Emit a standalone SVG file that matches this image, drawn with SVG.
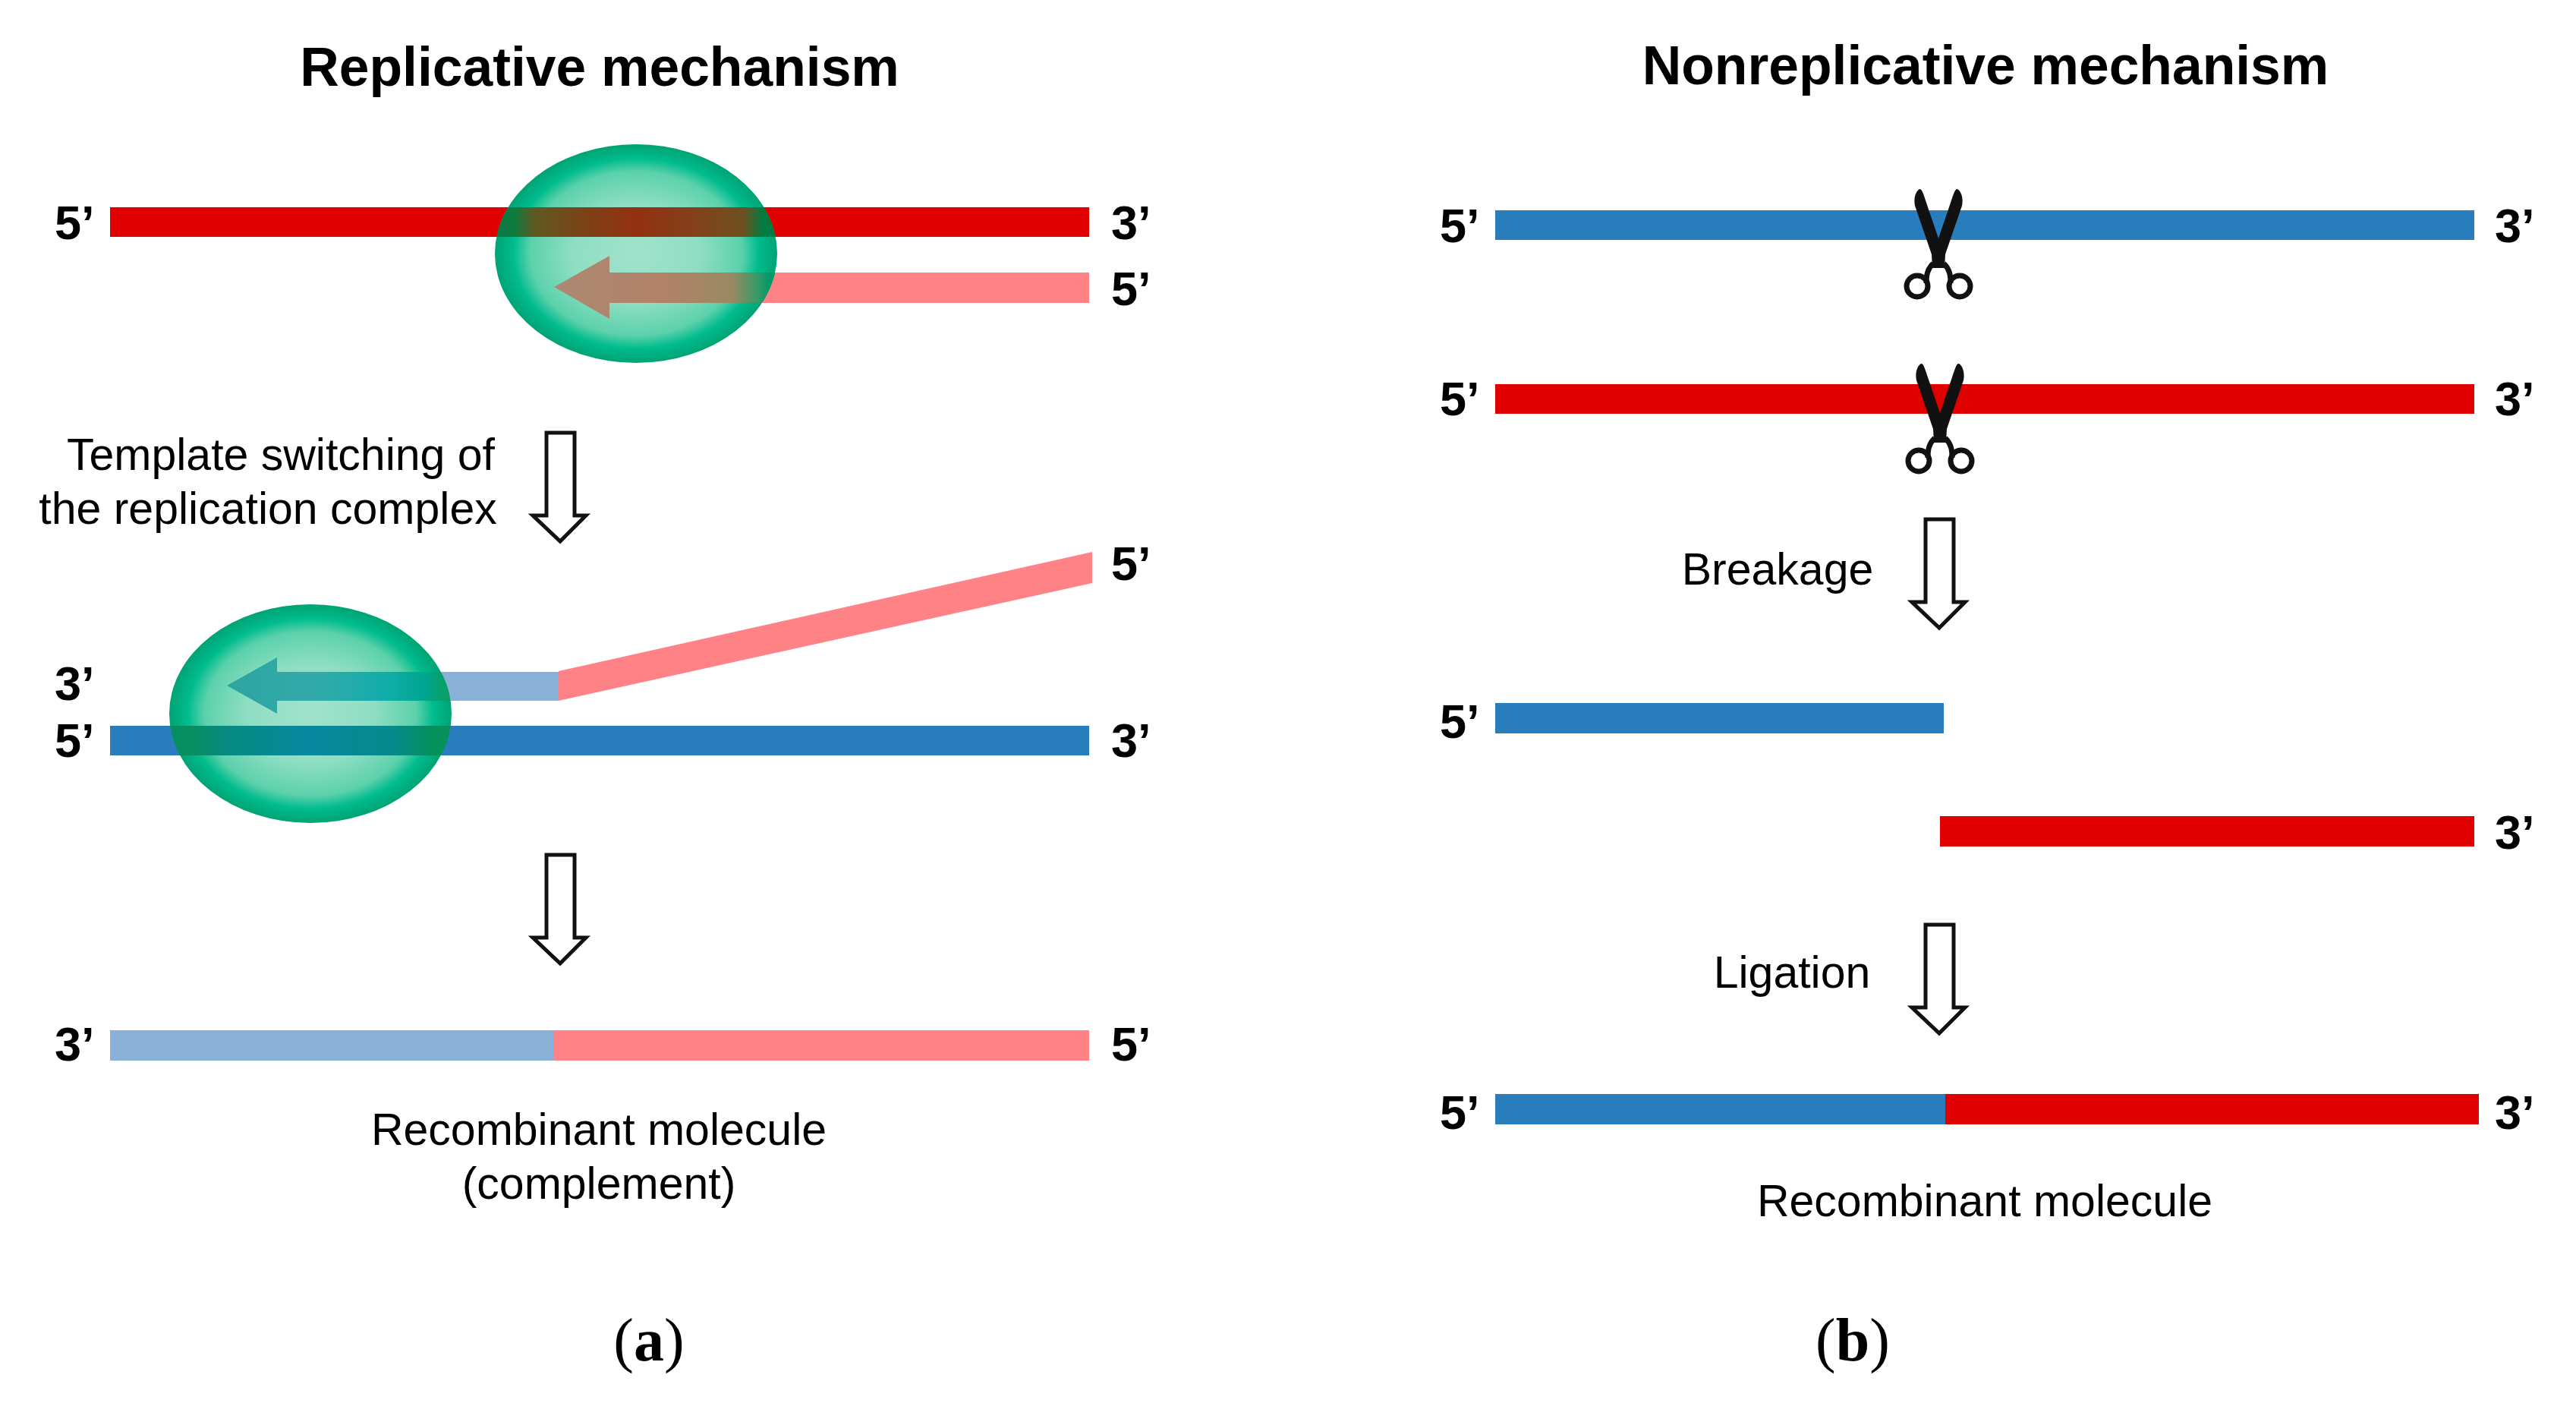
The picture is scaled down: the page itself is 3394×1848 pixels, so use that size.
<svg xmlns="http://www.w3.org/2000/svg" xmlns:xlink="http://www.w3.org/1999/xlink" width="3394" height="1848" viewBox="0 0 3394 1848">
<style>
text{font-family:"Liberation Sans",Arial,sans-serif;fill:#000}
.t{font-size:71.4px;font-weight:700;text-anchor:middle}
.e{font-size:63px;font-weight:700}
.l{font-size:59px;text-anchor:middle}
.c{font-family:"Liberation Serif","Times New Roman",serif;font-size:80px;text-anchor:middle}
.hollow{fill:#fff;stroke:#111;stroke-width:5}
.red{fill:#e00000}.blue{fill:#2a7dbd}.pink{fill:#ff8286}.lblue{fill:#8ab1d8}
.blade{fill:#111}
.hand{fill:none;stroke:#111;stroke-width:7}
</style>
<defs>
<radialGradient id="g">
<stop offset="0" stop-color="#a2e2cb"/>
<stop offset=".45" stop-color="#8fdec3"/>
<stop offset=".75" stop-color="#5cd1ab"/>
<stop offset=".87" stop-color="#00bc8d"/>
<stop offset="1" stop-color="#00a374"/>
</radialGradient>
<linearGradient id="o-red" gradientUnits="userSpaceOnUse" x1="652" x2="1024" y1="0" y2="0">
<stop offset="0" stop-color="#0a7a45"/><stop offset=".07" stop-color="#0f7a40"/><stop offset=".14" stop-color="#5f5a22"/><stop offset=".3" stop-color="#7a4418"/><stop offset=".5" stop-color="#933012"/><stop offset=".7" stop-color="#84401a"/><stop offset=".88" stop-color="#6e5020"/><stop offset=".95" stop-color="#007c40"/><stop offset="1" stop-color="#007c40"/>
</linearGradient>
<linearGradient id="o-pink" gradientUnits="userSpaceOnUse" x1="730" x2="1024" y1="0" y2="0">
<stop offset="0" stop-color="#ac8873"/><stop offset=".5" stop-color="#b28268"/><stop offset=".8" stop-color="#988a62"/><stop offset=".92" stop-color="#2f9a68"/><stop offset=".96" stop-color="#009a68"/><stop offset="1" stop-color="#009a68"/>
</linearGradient>
<linearGradient id="o-blue" gradientUnits="userSpaceOnUse" x1="223" x2="595" y1="0" y2="0">
<stop offset="0" stop-color="#078e60"/><stop offset=".08" stop-color="#078e60"/><stop offset=".2" stop-color="#078a80"/><stop offset=".5" stop-color="#0888a0"/><stop offset=".8" stop-color="#068a8a"/><stop offset=".93" stop-color="#05905c"/><stop offset="1" stop-color="#05905c"/>
</linearGradient>
<linearGradient id="o-arr" gradientUnits="userSpaceOnUse" x1="299" x2="595" y1="0" y2="0">
<stop offset="0" stop-color="#2ca5a0"/><stop offset=".4" stop-color="#33aaaa"/><stop offset=".7" stop-color="#12adaa"/><stop offset=".88" stop-color="#00a690"/><stop offset=".96" stop-color="#06a068"/><stop offset="1" stop-color="#06a068"/>
</linearGradient>
<clipPath id="c1"><ellipse cx="838" cy="334" rx="186" ry="144"/></clipPath>
<clipPath id="c2"><ellipse cx="409" cy="940" rx="186" ry="144"/></clipPath>
<g id="sc">
<path class="blade" d="M-25,-78C-30,-75 -33,-66 -31,-56L-9,8L-8,26L8,26L9,8L31,-56C33,-66 30,-75 25,-78C22,-79 20,-72 16,-60L0,-13L-16,-60C-20,-72 -22,-79 -25,-78Z"/>
<path class="hand" d="M-7,20C-15,28 -16,36 -16,46M7,20C15,28 16,36 16,46"/>
<circle class="hand" cx="-28" cy="50" r="14"/>
<circle class="hand" cx="28" cy="50" r="14"/>
</g>
<path id="ha" class="hollow" d="M720,570H757V679H772L738,713L702,679H720Z"/>
</defs>
<rect width="3394" height="1848" fill="#fff"/>

<g id="panel-a">
<text class="t" x="790" y="113">Replicative mechanism</text>
<g id="strand-red"><rect class="red" x="145" y="273" width="1290" height="39"/></g>
<g id="strand-pink"><rect class="pink" x="1000" y="359" width="435" height="40"/></g>
<g id="complex-1"><ellipse cx="838" cy="334" rx="186" ry="144" fill="url(#g)"/>
<rect x="640" y="273" width="400" height="39" fill="url(#o-red)" clip-path="url(#c1)"/>
<path fill="url(#o-pink)" clip-path="url(#c1)" d="M1030,359H803V337L730,378L803,420V399H1030Z"/></g>
<g id="e1"><text class="e" x="72" y="315">5’</text><text class="e" x="1464" y="315">3’</text><text class="e" x="1464" y="402">5’</text></g>
<g id="label-template"><text class="l" x="370" y="619">Template switching of</text><text class="l" x="353" y="690">the replication complex</text></g>

<g id="strand-lblue"><path class="lblue" d="M400,885H736V923H400Z"/></g>
<g id="strand-diag"><path class="pink" d="M736,884L1439,727V768L736,923Z"/></g>
<g id="strand-blue"><rect class="blue" x="145" y="956" width="1290" height="39"/></g>
<g id="complex-2"><ellipse cx="409" cy="940" rx="186" ry="144" fill="url(#g)"/>
<rect x="215" y="956" width="390" height="39" fill="url(#o-blue)" clip-path="url(#c2)"/>
<path fill="url(#o-arr)" clip-path="url(#c2)" d="M600,885H365V866L299,903L365,940V923H600Z"/></g>
<g id="e2"><text class="e" x="72" y="922">3’</text><text class="e" x="72" y="997">5’</text><text class="e" x="1464" y="997">3’</text><text class="e" x="1464" y="764">5’</text></g>

<g id="strand-rec-a"><rect class="lblue" x="145" y="1357" width="584" height="40"/><rect class="pink" x="729" y="1357" width="706" height="40"/></g>
<g id="e3"><text class="e" x="72" y="1397">3’</text><text class="e" x="1464" y="1397">5’</text></g>
<g id="label-rec-a"><text class="l" x="789" y="1508">Recombinant molecule</text><text class="l" x="789" y="1579">(complement)</text></g>
<g id="caption-a"><text class="c" x="855" y="1792">(<tspan font-weight="700">a</tspan>)</text></g>
</g>

<g id="panel-b">
<text class="t" x="2616" y="111">Nonreplicative mechanism</text>
<g id="strand-b1"><rect class="blue" x="1970" y="277" width="1290" height="39"/></g>
<g id="strand-b2"><rect class="red" x="1970" y="506" width="1290" height="39"/></g>
<g id="scissors-1"><use xlink:href="#sc" href="#sc" x="2554" y="327"/></g>
<g id="scissors-2"><use xlink:href="#sc" href="#sc" x="2556" y="557"/></g>
<g id="e4"><text class="e" x="1897" y="319">5’</text><text class="e" x="3287" y="319">3’</text><text class="e" x="1897" y="547">5’</text><text class="e" x="3287" y="547">3’</text></g>
<g id="label-break"><text class="l" x="2342" y="770">Breakage</text></g>
<g id="strand-b3"><rect class="blue" x="1970" y="926" width="591" height="40"/></g>
<g id="strand-b4"><rect class="red" x="2556" y="1075" width="704" height="40"/></g>
<g id="e5"><text class="e" x="1897" y="972">5’</text><text class="e" x="3287" y="1118">3’</text></g>
<g id="label-lig"><text class="l" x="2361" y="1301">Ligation</text></g>
<g id="strand-b5"><rect class="blue" x="1970" y="1441" width="593" height="40"/><rect class="red" x="2563" y="1441" width="703" height="40"/></g>
<g id="e6"><text class="e" x="1897" y="1487">5’</text><text class="e" x="3287" y="1487">3’</text></g>
<g id="label-rec-b"><text class="l" x="2615" y="1602">Recombinant molecule</text></g>
<g id="caption-b"><text class="c" x="2441" y="1792">(<tspan font-weight="700">b</tspan>)</text></g>
</g>

<g id="connectors">
<use xlink:href="#ha" href="#ha"/>
<use xlink:href="#ha" href="#ha" y="556"/>
<use xlink:href="#ha" href="#ha" x="1817" y="114"/>
<use xlink:href="#ha" href="#ha" x="1817" y="648"/>
</g>
</svg>
